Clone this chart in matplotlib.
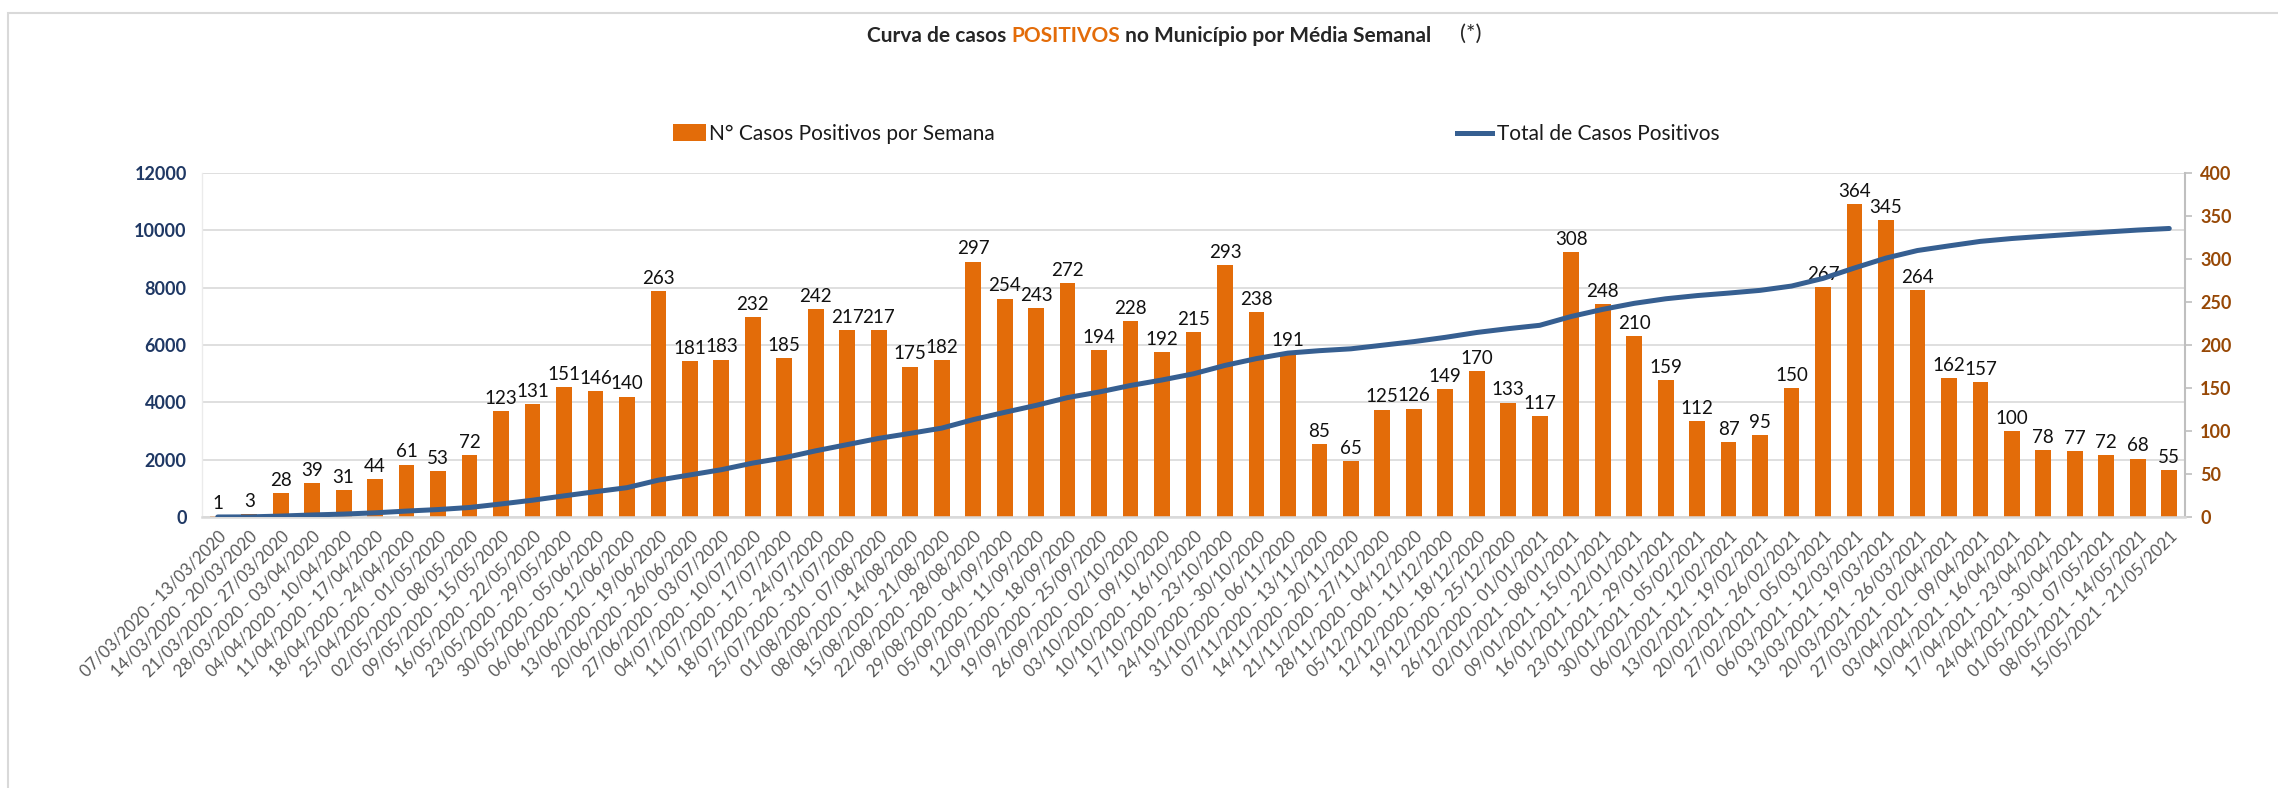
import matplotlib
matplotlib.use("Agg")
import matplotlib.pyplot as plt
from matplotlib.patches import Patch, Rectangle
from matplotlib.lines import Line2D

plt.rcParams['font.family'] = ['Lato', 'DejaVu Sans']

week_labels = [
    "07/03/2020 - 13/03/2020", "14/03/2020 - 20/03/2020", "21/03/2020 - 27/03/2020",
    "28/03/2020 - 03/04/2020", "04/04/2020 - 10/04/2020", "11/04/2020 - 17/04/2020",
    "18/04/2020 - 24/04/2020", "25/04/2020 - 01/05/2020", "02/05/2020 - 08/05/2020",
    "09/05/2020 - 15/05/2020", "16/05/2020 - 22/05/2020", "23/05/2020 - 29/05/2020",
    "30/05/2020 - 05/06/2020", "06/06/2020 - 12/06/2020", "13/06/2020 - 19/06/2020",
    "20/06/2020 - 26/06/2020", "27/06/2020 - 03/07/2020", "04/07/2020 - 10/07/2020",
    "11/07/2020 - 17/07/2020", "18/07/2020 - 24/07/2020", "25/07/2020 - 31/07/2020",
    "01/08/2020 - 07/08/2020", "08/08/2020 - 14/08/2020", "15/08/2020 - 21/08/2020",
    "22/08/2020 - 28/08/2020", "29/08/2020 - 04/09/2020", "05/09/2020 - 11/09/2020",
    "12/09/2020 - 18/09/2020", "19/09/2020 - 25/09/2020", "26/09/2020 - 02/10/2020",
    "03/10/2020 - 09/10/2020", "10/10/2020 - 16/10/2020", "17/10/2020 - 23/10/2020",
    "24/10/2020 - 30/10/2020", "31/10/2020 - 06/11/2020", "07/11/2020 - 13/11/2020",
    "14/11/2020 - 20/11/2020", "21/11/2020 - 27/11/2020", "28/11/2020 - 04/12/2020",
    "05/12/2020 - 11/12/2020", "12/12/2020 - 18/12/2020", "19/12/2020 - 25/12/2020",
    "26/12/2020 - 01/01/2021", "02/01/2021 - 08/01/2021", "09/01/2021 - 15/01/2021",
    "16/01/2021 - 22/01/2021", "23/01/2021 - 29/01/2021", "30/01/2021 - 05/02/2021",
    "06/02/2021 - 12/02/2021", "13/02/2021 - 19/02/2021", "20/02/2021 - 26/02/2021",
    "27/02/2021 - 05/03/2021", "06/03/2021 - 12/03/2021", "13/03/2021 - 19/03/2021",
    "20/03/2021 - 26/03/2021", "27/03/2021 - 02/04/2021", "03/04/2021 - 09/04/2021",
    "10/04/2021 - 16/04/2021", "17/04/2021 - 23/04/2021", "24/04/2021 - 30/04/2021",
    "01/05/2021 - 07/05/2021", "08/05/2021 - 14/05/2021", "15/05/2021 - 21/05/2021",
]

weekly_cases = [
    1, 3, 28, 39, 31, 44, 61, 53, 72,
    123, 131, 151, 146, 140, 263, 181, 183, 232, 185,
    242, 217, 217, 175, 182, 297, 254, 243, 272, 194,
    228, 192, 215, 293, 238, 191, 85, 65, 125, 126,
    149, 170, 133, 117, 308, 248, 210, 159, 112, 87,
    95, 150, 267, 364, 345, 264, 162, 157, 100, 78,
    77, 72, 68, 55,
]

total_cases = [
    1, 4, 32, 71, 102, 146, 207, 260, 332,
    455, 586, 737, 883, 1023, 1286, 1467, 1650, 1882, 2067,
    2309, 2526, 2743, 2918, 3100, 3397, 3651, 3894, 4166, 4360,
    4588, 4780, 4995, 5288, 5526, 5717, 5802, 5867, 5992, 6118,
    6267, 6437, 6570, 6687, 6995, 7243, 7453, 7612, 7724, 7811,
    7906, 8056, 8323, 8687, 9032, 9296, 9458, 9615, 9715, 9793,
    9870, 9942, 10010, 10065,
]

left_ticks = [0, 2000, 4000, 6000, 8000, 10000, 12000]
right_ticks = [0, 50, 100, 150, 200, 250, 300, 350, 400]

ORANGE = "#E36C09"
BLUE = "#365F91"
LEFT_TXT = "#1F3864"
RIGHT_TXT = "#974806"

W, H = 2278, 788
fig = plt.figure(figsize=(W / 100, H / 100), dpi=100)
fig.patch.set_facecolor("white")

# outer frame
fig.add_artist(Rectangle((8 / W, -0.2), 1.5, 1.2 - 13 / H,
                         transform=fig.transFigure, fill=False,
                         edgecolor="#D9D9D9", linewidth=1.5))

ax = fig.add_axes([202 / W, 1 - 517 / H, (2185 - 202) / W, (517 - 173) / H])
ax2 = ax.twinx()
ax.set_zorder(2)
ax2.set_zorder(1)
ax.patch.set_visible(False)
ax2.patch.set_facecolor("white")

x = list(range(len(weekly_cases)))

# gridlines (aligned with left-axis ticks) drawn behind bars
for t in left_ticks:
    ax2.axhline(t * right_ticks[-1] / left_ticks[-1], color="#D9D9D9",
                linewidth=1.2, zorder=0)

bars = ax2.bar(x, weekly_cases, width=0.5, color=ORANGE, zorder=2)
ax2.bar_label(bars, labels=[str(v) for v in weekly_cases], padding=3,
              fontsize=13.5, color="#111111")
ax2.set_ylim(right_ticks[0], right_ticks[-1])
ax2.set_yticks(right_ticks)
ax2.tick_params(axis="y", colors="#BFBFBF", length=5, width=1.2, pad=6,
                labelsize=13, labelcolor=RIGHT_TXT)
for lab in ax2.get_yticklabels():
    lab.set_fontweight("bold")

ax.plot(x, total_cases, color=BLUE, linewidth=3.6, solid_capstyle="round",
        solid_joinstyle="round", zorder=3)
ax.set_ylim(left_ticks[0], left_ticks[-1])
ax.set_yticks(left_ticks)
ax.tick_params(axis="y", length=0, pad=11, labelsize=13, labelcolor=LEFT_TXT)
for lab in ax.get_yticklabels():
    lab.set_fontweight("bold")

ax.set_xlim(-0.5, len(x) - 0.5)
ax.set_xticks(x)
ax.set_xticklabels(week_labels, rotation=45, ha="right", rotation_mode="anchor",
                   fontsize=12, color="#595959")
ax.tick_params(axis="x", length=0, pad=8)

for a in (ax, ax2):
    for side in ("top", "left", "bottom", "right"):
        a.spines[side].set_visible(False)
ax.spines["bottom"].set_visible(True)
ax.spines["bottom"].set_color("#D9D9D9")
ax.spines["bottom"].set_linewidth(1.8)
ax.spines["left"].set_visible(True)
ax.spines["left"].set_color("#EBEBEB")
ax.spines["left"].set_linewidth(1.0)
ax2.spines["right"].set_visible(True)
ax2.spines["right"].set_color("#BFBFBF")
ax2.spines["right"].set_linewidth(1.5)

# title (multi-coloured)
t1 = fig.text(867 / W, 1 - 36 / H, "Curva de casos ", fontsize=15, fontweight="bold",
              color="#262626", ha="left", va="center")
t2 = ax.annotate("POSITIVOS", xy=(1, 0), xycoords=t1, fontsize=15, fontweight="bold",
                 color=ORANGE, ha="left", va="bottom", annotation_clip=False)
t3 = ax.annotate(" no Município por Média Semanal", xy=(1, 0), xycoords=t2,
                 fontsize=15, fontweight="bold", color="#262626",
                 ha="left", va="bottom", annotation_clip=False)
fig.text(1460 / W, 1 - 34 / H, "(*)", fontsize=16, color="#262626",
         ha="left", va="center")

# legends
leg1 = fig.legend(handles=[Patch(facecolor=ORANGE, edgecolor="none")],
                  labels=["N° Casos Positivos por Semana"],
                  loc="center left", bbox_to_anchor=(673 / W, 1 - 134 / H),
                  frameon=False, fontsize=15, handlelength=1.6, handleheight=0.9,
                  handletextpad=0.15, borderpad=0, borderaxespad=0)
for t in leg1.get_texts():
    t.set_color("#1A1A1A")
leg2 = fig.legend(handles=[Line2D([0], [0], color=BLUE, linewidth=3.6)],
                  labels=["Total de Casos Positivos"],
                  loc="center left", bbox_to_anchor=(1457 / W, 1 - 134 / H),
                  frameon=False, fontsize=15, handlelength=1.7,
                  handletextpad=0.2, borderpad=0, borderaxespad=0)
for t in leg2.get_texts():
    t.set_color("#1A1A1A")

fig.savefig("out.png", dpi=100, facecolor="white")
